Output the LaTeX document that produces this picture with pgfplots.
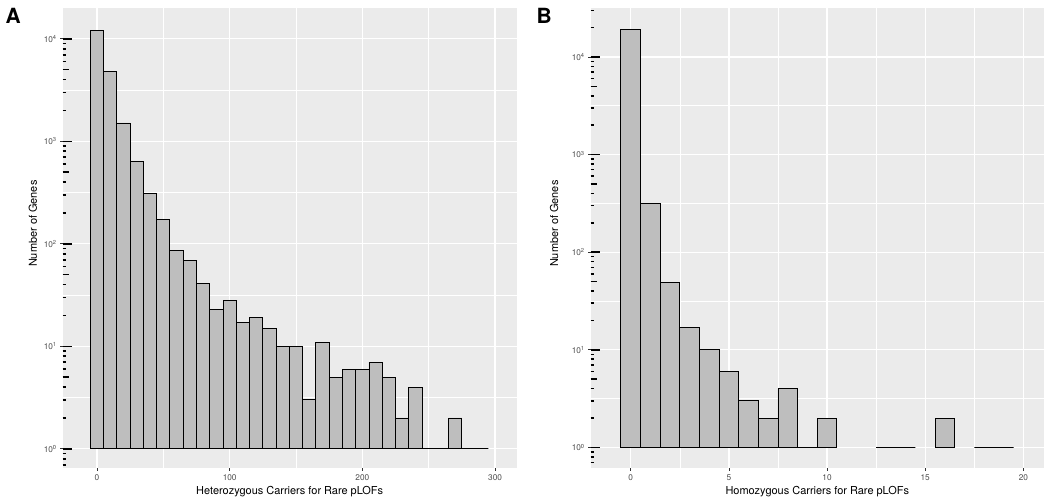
\documentclass[border=0pt]{standalone}
\usepackage{fontspec}
\setmainfont{TeX Gyre Heros}
\usepackage{pgfplots}
\pgfplotsset{compat=1.18}
\usepackage{pgfplotstable}
\definecolor{panelbg}{HTML}{EBEBEB}
\definecolor{barfill}{HTML}{BEBEBE}
\definecolor{tickgray}{HTML}{333333}
\definecolor{labgray}{HTML}{4D4D4D}

\pgfplotstableread{
x y
0 12000
10 4800
20 1510
30 630
40 308
50 173
60 86
70 69
80 41
90 23
100 28
110 17
120 19
130 15
140 10
150 10
160 3
170 11
180 5
190 6
200 6
210 7
220 5
230 2
240 4
250 1
260 1
270 2
280 1
290 1
}\hetdata

\pgfplotstableread{
x y
0 19100
1 312
2 49
3 17
4 10
5 6
6 3
7 2
8 4
9 1
10 2
13 1
14 1
16 2
18 1
19 1
}\homdata

\begin{document}
\begin{tikzpicture}
\path[use as bounding box] (0,0) rectangle (1050bp,502bp);

% ---------- Panel A ----------
\begin{axis}[scale only axis, anchor=south west, at={(62.7bp,33.7bp)}, width=454bp, height=460bp,
  ymode=log, xmin=-25.8, xmax=316.3, ymin=0.6457, ymax=19861,
  axis background/.style={fill=panelbg}, axis line style={draw=none},
  grid=both, major grid style={white, line width=1.2bp}, minor grid style={white, line width=0.6bp},
  tick align=outside, major tick length=2.5bp, minor tick length=0pt,
  tick style={tickgray, line width=0.8bp},
  xtick pos=bottom, ytick pos=left,
  ticklabel style={font=\fontsize{8.3}{9}\selectfont, text=labgray},
  ytick={1,10,100,1000,10000},
  yticklabels={10\textsuperscript{0},10\textsuperscript{1},10\textsuperscript{2},10\textsuperscript{3},10\textsuperscript{4}},
  xtick={0,100,200,300}, xticklabels={0,100,200,300}, minor xtick={50,150,250},
  minor ytick={3.1623,31.623,316.23,3162.3},
  ybar, bar width=10]
\addplot[fill=barfill, draw=black, line width=0.9bp] table[x=x,y=y]{\hetdata};
\end{axis}
\begin{axis}[scale only axis, anchor=south west, at={(62.7bp,33.7bp)}, width=454bp, height=460bp,
  ymode=log, xmin=-25.8, xmax=316.3, ymin=0.6457, ymax=19861,
  axis line style={draw=none}, xtick=\empty, ytick pos=left,
  tick align=inside, yticklabels={}, tick style={black, line width=1.6bp},
  ytick={1,10,100,1000,10000}, major tick length=9.6bp,
  minor ytick={0.7,0.8,0.9,2,3,4,6,7,8,9,20,30,40,60,70,80,90,200,300,400,600,700,800,900,2000,3000,4000,6000,7000,8000,9000},
  minor tick length=3.3bp]
\end{axis}
\begin{axis}[scale only axis, anchor=south west, at={(62.7bp,33.7bp)}, width=454bp, height=460bp,
  ymode=log, xmin=-25.8, xmax=316.3, ymin=0.6457, ymax=19861,
  axis line style={draw=none}, xtick=\empty, ytick pos=left,
  tick align=inside, yticklabels={}, tick style={black, line width=1.6bp},
  ytick={5,50,500,5000}, major tick length=6.5bp, minor tick length=0pt]
\end{axis}

% ---------- Panel B ----------
\begin{axis}[scale only axis, anchor=south west, at={(590.7bp,33.7bp)}, width=453.3bp, height=460bp,
  ymode=log, xmin=-2.04, xmax=21.05, ymin=0.612, ymax=31477,
  axis background/.style={fill=panelbg}, axis line style={draw=none},
  grid=both, major grid style={white, line width=1.2bp}, minor grid style={white, line width=0.6bp},
  tick align=outside, major tick length=2.5bp, minor tick length=0pt,
  tick style={tickgray, line width=0.8bp},
  xtick pos=bottom, ytick pos=left,
  ticklabel style={font=\fontsize{8.3}{9}\selectfont, text=labgray},
  ytick={1,10,100,1000,10000},
  yticklabels={10\textsuperscript{0},10\textsuperscript{1},10\textsuperscript{2},10\textsuperscript{3},10\textsuperscript{4}},
  xtick={0,5,10,15,20}, xticklabels={0,5,10,15,20}, minor xtick={2.5,7.5,12.5,17.5},
  minor ytick={3.1623,31.623,316.23,3162.3},
  ybar, bar width=1]
\addplot[fill=barfill, draw=black, line width=0.9bp] table[x=x,y=y]{\homdata};
\end{axis}
\begin{axis}[scale only axis, anchor=south west, at={(590.7bp,33.7bp)}, width=453.3bp, height=460bp,
  ymode=log, xmin=-2.04, xmax=21.05, ymin=0.612, ymax=31477,
  axis line style={draw=none}, xtick=\empty, ytick pos=left,
  tick align=inside, yticklabels={}, tick style={black, line width=1.6bp},
  ytick={1,10,100,1000,10000}, major tick length=9.6bp,
  minor ytick={0.7,0.8,0.9,2,3,4,6,7,8,9,20,30,40,60,70,80,90,200,300,400,600,700,800,900,2000,3000,4000,6000,7000,8000,9000,20000,30000},
  minor tick length=3.3bp]
\end{axis}
\begin{axis}[scale only axis, anchor=south west, at={(590.7bp,33.7bp)}, width=453.3bp, height=460bp,
  ymode=log, xmin=-2.04, xmax=21.05, ymin=0.612, ymax=31477,
  axis line style={draw=none}, xtick=\empty, ytick pos=left,
  tick align=inside, yticklabels={}, tick style={black, line width=1.6bp},
  ytick={5,50,500,5000}, major tick length=6.5bp, minor tick length=0pt]
\end{axis}

% ---------- Titles ----------
\node[anchor=base, font=\fontsize{11}{13}\selectfont] at (289.7bp,7.7bp) {Heterozygous Carriers for Rare pLOFs};
\node[anchor=base, font=\fontsize{11}{13}\selectfont] at (817.3bp,7.7bp) {Homozygous Carriers for Rare pLOFs};
\node[rotate=90, font=\fontsize{11}{13}\selectfont] at (33bp,278.3bp) {Number of Genes};
\node[rotate=90, font=\fontsize{11}{13}\selectfont] at (554bp,278.3bp) {Number of Genes};
\node[anchor=north west, inner sep=0pt, font=\bfseries\fontsize{21}{21}\selectfont] at (5.5bp,493.7bp) {A};
\node[anchor=north west, inner sep=0pt, font=\bfseries\fontsize{21}{21}\selectfont] at (536.5bp,493.7bp) {B};
\end{tikzpicture}
\end{document}
